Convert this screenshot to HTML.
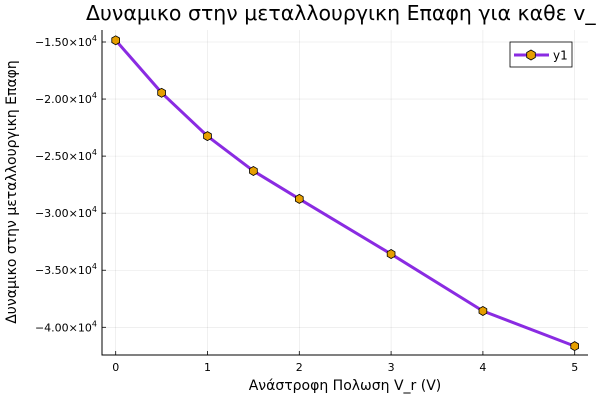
<!DOCTYPE html>
<html><head><meta charset="utf-8"><style>
body{margin:0;background:#fff;}
svg{display:block;font-family:"DejaVu Sans","Liberation Sans",sans-serif;}
</style></head><body>
<svg id="chart" width="600" height="400">
<text x="86" y="20" font-size="20.5" fill="#000">Δυναμικο στην μεταλλουργικη Επαφη για καθε v_</text>
<g id="grid"></g>
<g id="axes"></g>
<g id="series"></g>
<text x="345" y="390" font-size="14" text-anchor="middle">Ανάστροφη Πολωση V_r (V)</text>
<text transform="translate(16,192) rotate(-90)" font-size="14" text-anchor="middle">Δυναμικο στην μεταλλουργικη Επαφη</text>
<g>
<rect x="510" y="42" width="62" height="25" fill="#fff" stroke="#000" stroke-width="0.8"/>
<line x1="514" y1="55" x2="549" y2="55" stroke="#8a2be2" stroke-width="3"/>
<polygon points="531,50 535.3,52.5 535.3,57.5 531,60 526.7,57.5 526.7,52.5" fill="#e69f00" stroke="#000" stroke-width="0.8"/>
<text x="553" y="59.5" font-size="12">y1</text>
</g>
</svg>
<script>
const xValues=[0,0.5,1,1.5,2,3,4,5];
const yValues=[-14850,-19450,-23250,-26300,-28750,-33580,-38570,-41650];
const xTicks=[0,1,2,3,4,5];
const yTicks=[-15000,-20000,-25000,-30000,-35000,-40000];
const yTickLabels=["−1.50","−2.00","−2.50","−3.00","−3.50","−4.00"];
const L=102,R=588,T=30,B=355;
const sx=v=>115.7+v*(574.7-115.7)/5;
const sy=v=>42+(v+15000)*(327.3-42)/(-25000);
const ns="http://www.w3.org/2000/svg";
function mk(tag,attrs,parent){const e=document.createElementNS(ns,tag);for(const k in attrs)e.setAttribute(k,attrs[k]);document.getElementById(parent).appendChild(e);return e;}
xTicks.forEach(t=>{
 const g=mk('line',{x1:sx(t),x2:sx(t),y1:T,y2:B,stroke:'#000','stroke-opacity':0.1,'stroke-width':0.6},'grid');
 
 
 const tk=mk('line',{x1:sx(t),x2:sx(t),y1:B,y2:B-4,stroke:'#000','stroke-width':0.8},'axes');
 
 
 const tx=mk('text',{x:sx(t),y:B+16,'font-size':11,'text-anchor':'middle'},'axes');
 tx.textContent=t;
 
 
});
yTicks.forEach((t,i)=>{
 const g=mk('line',{x1:L,x2:R,y1:sy(t),y2:sy(t),stroke:'#000','stroke-opacity':0.1,'stroke-width':0.6},'grid');
 
 
 const tk=mk('line',{x1:L,x2:L+4,y1:sy(t),y2:sy(t),stroke:'#000','stroke-width':0.8},'axes');
 
 
 const tx=mk('text',{x:L-5,y:sy(t)+4,'font-size':11,'text-anchor':'end'},'axes');
 tx.innerHTML=yTickLabels[i]+'×10<tspan dy="-5" font-size="8">4</tspan>';
 
 
});
const ax=mk('polyline',{points:`${L},${T} ${L},${B} ${R},${B}`,fill:'none',stroke:'#000','stroke-width':1},'axes');


const pl=mk('polyline',{points:xValues.map((x,i)=>sx(x)+','+sy(yValues[i])).join(' '),fill:'none',stroke:'#8a2be2','stroke-width':3,'stroke-linejoin':'round'},'series');


xValues.forEach((x,i)=>{
 const cx=sx(x),cy=sy(yValues[i]),r=4.5;
 const pts=[];for(let k=0;k<6;k++){const a=Math.PI/2+k*Math.PI/3;pts.push((cx+r*Math.cos(a)).toFixed(1)+','+(cy+r*Math.sin(a)).toFixed(1));}
 const p=mk('polygon',{points:pts.join(' '),fill:'#e69f00',stroke:'#000','stroke-width':0.8},'series');
 
 
});
</script>
</body></html>
